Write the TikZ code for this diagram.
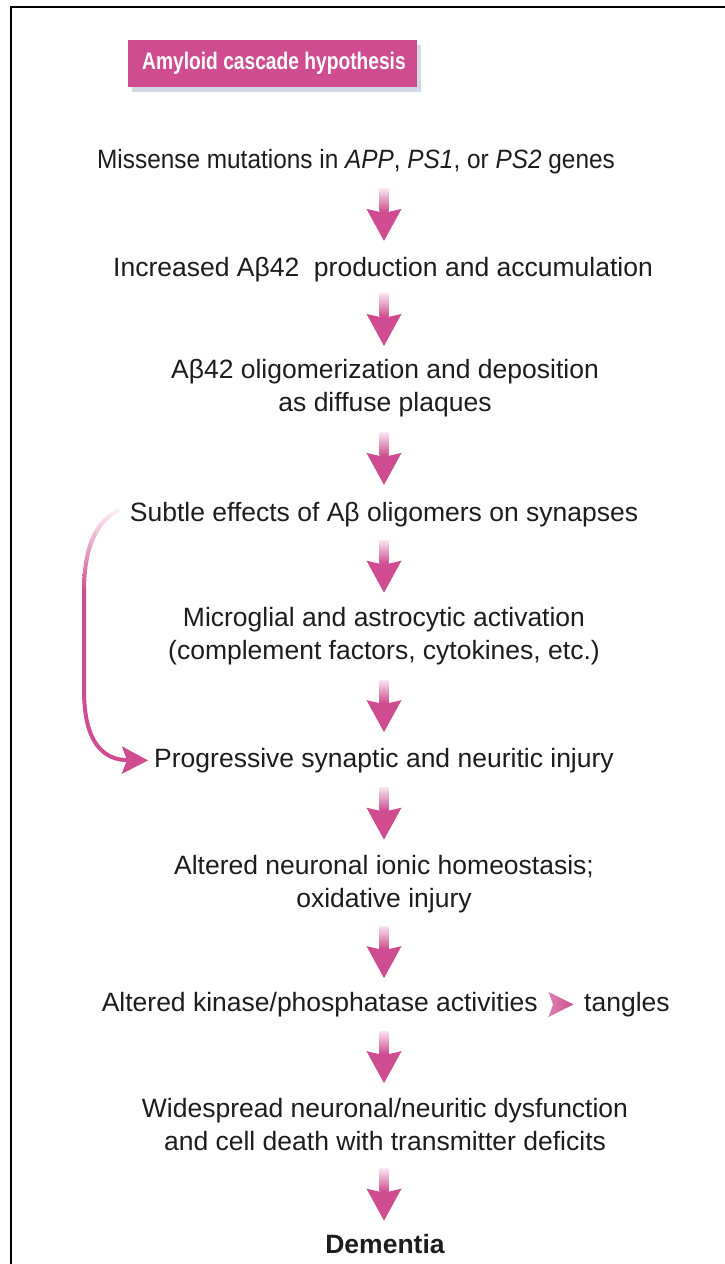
\documentclass[tikz,border=0pt]{standalone}
\usepackage{fontspec}
\setmainfont{Liberation Sans}
\usetikzlibrary{calc,arrows.meta,shadows}
\definecolor{apink}{RGB}{206,76,143}
\definecolor{alight}{RGB}{248,226,237}
\definecolor{txt}{RGB}{30,28,29}
\definecolor{shad}{RGB}{150,170,195}
\newcommand\cascarrow[2]{%
  \coordinate (m0) at ($(#1.south)!0.5!(#2.north)$);
  \coordinate (m) at (m0 -| ax);
  \shade[top color=alight, bottom color=apink, shift={(m)}] (-4.5,-26.5) rectangle (4.5,-3.5);
  \fill[apink, shift={(m)}] (-17.5,-6.5) -- (-4.5,-3.5) -- (4.5,-3.5) -- (17.5,-6.5) -- (0,25.5) -- cycle;
}
\begin{document}
\begin{tikzpicture}[x=1pt,y=-1pt,
  steptext/.style={font=\fontsize{26.5}{33}\selectfont, text=txt, align=center, inner sep=0pt},
  titlebox/.style={fill=apink, text=white, font=\fontsize{24}{26}\selectfont\bfseries,
    minimum width=289pt, minimum height=47pt, inner sep=0pt,
    drop shadow={shadow xshift=4pt, shadow yshift=-5pt, fill=shad, opacity=0.45}},
  feedback/.style={draw=apink, line width=4pt, -{Stealth[length=26pt,width=27pt,inset=5pt]}}]
\useasboundingbox (0,0) rectangle (725,1264);
\fill[white] (0,0) rectangle (725,1264);
\draw[line width=2pt] (11,1264) -- (11,7) -- (725,7);
\coordinate (ax) at (384,0);
\node[titlebox] (title) at (272.5,63.5) {\hspace{3pt}\scalebox{0.8}[1]{Amyloid cascade hypothesis}};
\node[steptext] (n1) at (356,161.4) {\strut\scalebox{0.92}[1]{Missense mutations in \textit{APP}, \textit{PS1}, or \textit{PS2} genes}};
\node[steptext] (n2) at (383,269.4) {\strut Increased Aβ42\ \ production and accumulation};
\node[steptext] (n3) at (385,387.9) {\strut Aβ42 oligomerization and deposition\\\strut as diffuse plaques};
\node[steptext] (n4) at (384,514.4) {\strut Subtle effects of Aβ oligomers on synapses};
\node[steptext] (n5) at (384,636.4) {\strut Microglial and astrocytic activation\\\strut (complement factors, cytokines, etc.)};
\node[steptext] (n6) at (384,760.4) {\strut Progressive synaptic and neuritic injury};
\node[steptext] (n7) at (384,884.4) {\strut Altered neuronal ionic homeostasis;\\\strut oxidative injury};
\node[steptext, anchor=east] (k8) at (538,1004.4) {\strut Altered kinase/phosphatase activities};
\node[steptext, anchor=west] (t8) at (584,1004.4) {\strut tangles};
\node[steptext] (n9) at (385,1127.4) {\strut Widespread neuronal/neuritic dysfunction\\\strut and cell death with transmitter deficits};
\node[steptext, font=\fontsize{26.5}{33}\selectfont\bfseries] (n10) at (385,1246.4) {\strut Dementia};
\cascarrow{n1}{n2}
\cascarrow{n2}{n3}
\cascarrow{n3}{n4}
\cascarrow{n4}{n5}
\cascarrow{n5}{n6}
\cascarrow{n6}{n7}
\cascarrow{n7}{k8}
\cascarrow{k8}{n9}
\cascarrow{n9}{n10}
% small arrowhead between kinase text and tangles
\coordinate (km) at ($(k8.east)!0.5!(t8.west)$);
\shade[left color=apink!70, right color=apink, shift={(km)}] (-12.5,-12.5) -- (12.5,0) -- (-12.5,12.5) -- (-8,0) -- cycle;
% feedback curve from n4 to n6
\coordinate (cs) at ([xshift=-11pt,yshift=6pt]n4.west);
\coordinate (ce) at ([xshift=-6pt]n6.west);
\shade[top color=apink!8, middle color=apink, bottom color=apink]
  (cs) .. controls (92,520) and (82,550) .. (82,592) -- (86,592) .. controls (86,553) and (95,525) .. ([xshift=1pt,yshift=-3pt]cs) -- cycle;
\draw[feedback] (84,590) -- (84,690) .. controls (84,745) and (105,760) .. (ce);
\end{tikzpicture}
\end{document}
